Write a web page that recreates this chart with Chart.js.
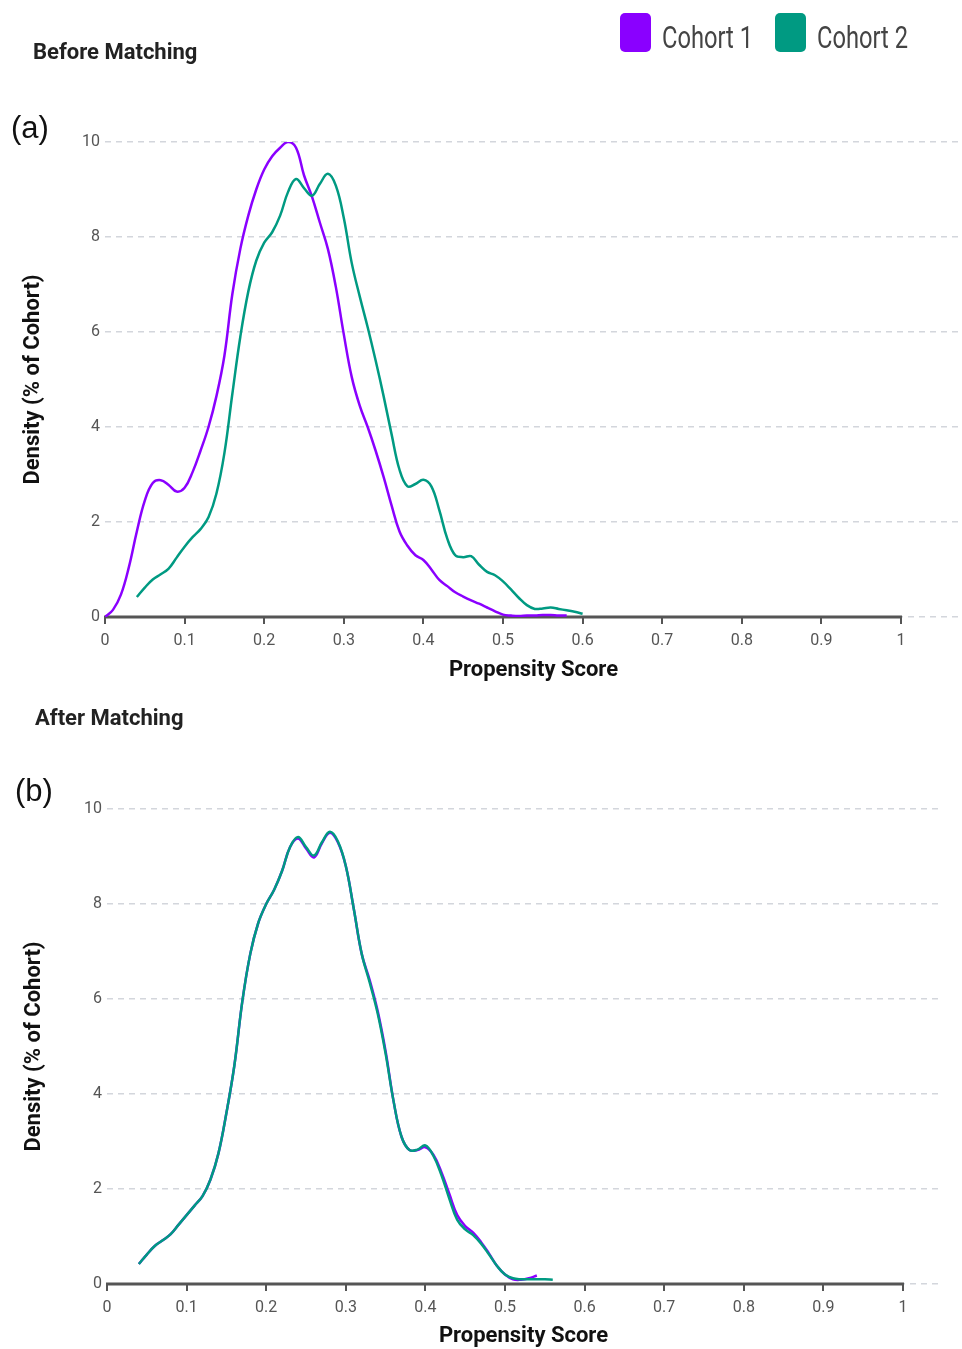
<!DOCTYPE html>
<html lang="en">
  <head>
    <meta charset="UTF-8" />
    <title>Propensity Score Density</title>
    <script src="https://cdn.jsdelivr.net/npm/chart.js"></script>
    <style>
      body {
        margin: 0;
        background: #fff;
        font-family: Roboto, Arial, sans-serif;
      }
      .page {
        position: relative;
        width: 962px;
        height: 1349px;
        overflow: hidden;
      }
      canvas {
        position: absolute;
        left: 0;
      }
      .heading {
        position: absolute;
        font-size: 22px;
        font-weight: bold;
        color: #222;
        line-height: 26px;
        white-space: nowrap;
      }
      .panel {
        position: absolute;
        font-family: 'Liberation Sans', Arial, sans-serif;
        font-size: 31px;
        color: #111;
        line-height: 36px;
      }
      .legend {
        position: absolute;
        top: 13px;
        left: 620px;
        display: flex;
        align-items: center;
      }
      .legend .item {
        display: flex;
        align-items: center;
        margin-right: 23px;
      }
      .legend .box {
        width: 31px;
        height: 39px;
        border-radius: 5px;
        margin-right: 11px;
      }
      .legend .text {
        font-size: 32px;
        color: #444;
        display: inline-block;
        position: relative;
        top: 4px;
        transform: scaleX(0.74);
        transform-origin: left center;
        margin-right: -33px;
        white-space: nowrap;
      }
    </style>
  </head>
  <body>
    <div class="page">
      <canvas id="before" width="962" height="700" style="top:1px"></canvas>
      <canvas id="after" width="962" height="649" style="top:701px"></canvas>
      <div class="heading" style="left:33px; top:39px">Before Matching</div>
      <div class="panel" style="left:11px; top:110px">(a)</div>
      <div class="heading" style="left:35px; top:705px">After Matching</div>
      <div class="panel" style="left:15px; top:773px">(b)</div>
      <div class="legend" id="legend"></div>
    </div>

    <script>
      const cohortLabels = ['Cohort 1', 'Cohort 2']
      const cohortColors = ['#8a00ff', '#009a82']
      const scoreTicks = [0, 0.1, 0.2, 0.3, 0.4, 0.5, 0.6, 0.7, 0.8, 0.9, 1]
      const densityTicks = [0, 2, 4, 6, 8, 10]

      // Before matching
      const before1X = [0, 0.01, 0.02, 0.03, 0.04, 0.05, 0.06, 0.07, 0.08, 0.09, 0.1, 0.11, 0.12, 0.13, 0.14, 0.15, 0.16, 0.17, 0.18, 0.19, 0.2, 0.21, 0.22, 0.23, 0.24, 0.25, 0.26, 0.27, 0.28, 0.29, 0.3, 0.31, 0.32, 0.33, 0.34, 0.35, 0.36, 0.37, 0.38, 0.39, 0.4, 0.41, 0.42, 0.43, 0.44, 0.45, 0.46, 0.47, 0.48, 0.49, 0.5, 0.51, 0.52, 0.53, 0.54, 0.55, 0.56, 0.57, 0.58]
      const before1Y = [0, 0.15, 0.47, 1.05, 1.8, 2.45, 2.82, 2.88, 2.78, 2.64, 2.72, 3.05, 3.5, 4.0, 4.65, 5.5, 6.8, 7.75, 8.45, 9.0, 9.42, 9.7, 9.88, 10.0, 9.88, 9.3, 8.85, 8.3, 7.75, 6.95, 5.95, 5.05, 4.45, 4.0, 3.5, 2.95, 2.35, 1.8, 1.5, 1.3, 1.2, 1.0, 0.78, 0.65, 0.52, 0.43, 0.35, 0.28, 0.2, 0.12, 0.05, 0.03, 0.02, 0.03, 0.03, 0.04, 0.04, 0.03, 0.03]
      const before2X = [0.04, 0.05, 0.06, 0.07, 0.08, 0.09, 0.1, 0.11, 0.12, 0.13, 0.14, 0.15, 0.16, 0.17, 0.18, 0.19, 0.2, 0.21, 0.22, 0.23, 0.24, 0.25, 0.26, 0.27, 0.28, 0.29, 0.3, 0.31, 0.32, 0.33, 0.34, 0.35, 0.36, 0.37, 0.38, 0.39, 0.4, 0.41, 0.42, 0.43, 0.44, 0.45, 0.46, 0.47, 0.48, 0.49, 0.5, 0.51, 0.52, 0.53, 0.54, 0.55, 0.56, 0.57, 0.58, 0.59, 0.6]
      const before2Y = [0.42, 0.62, 0.79, 0.9, 1.02, 1.25, 1.48, 1.68, 1.85, 2.1, 2.6, 3.45, 4.7, 5.9, 6.85, 7.5, 7.88, 8.1, 8.45, 8.95, 9.22, 9.03, 8.87, 9.12, 9.33, 9.08, 8.4, 7.45, 6.75, 6.1, 5.4, 4.65, 3.85, 3.1, 2.75, 2.8, 2.89, 2.75, 2.25, 1.65, 1.3, 1.26, 1.28, 1.1, 0.95, 0.88, 0.75, 0.58, 0.4, 0.25, 0.17, 0.18, 0.2, 0.17, 0.14, 0.11, 0.07]

      // After matching
      const after1X = [0.04, 0.05, 0.06, 0.07, 0.08, 0.09, 0.1, 0.11, 0.12, 0.13, 0.14, 0.15, 0.16, 0.17, 0.18, 0.19, 0.2, 0.21, 0.22, 0.23, 0.24, 0.25, 0.26, 0.27, 0.28, 0.29, 0.3, 0.31, 0.32, 0.33, 0.34, 0.35, 0.36, 0.37, 0.38, 0.39, 0.4, 0.41, 0.42, 0.43, 0.44, 0.45, 0.46, 0.47, 0.48, 0.49, 0.5, 0.51, 0.52, 0.53, 0.54]
      const after1Y = [0.42, 0.62, 0.8, 0.92, 1.05, 1.25, 1.45, 1.65, 1.85, 2.2, 2.75, 3.6, 4.6, 5.95, 6.95, 7.6, 8.0, 8.3, 8.7, 9.2, 9.38, 9.17, 8.98, 9.28, 9.5, 9.3, 8.8, 7.9, 6.95, 6.4, 5.75, 4.9, 3.85, 3.1, 2.82, 2.82, 2.88, 2.72, 2.36, 1.9, 1.45, 1.22, 1.08, 0.88, 0.64, 0.38, 0.2, 0.1, 0.09, 0.12, 0.18]
      const after2X = [0.04, 0.05, 0.06, 0.07, 0.08, 0.09, 0.1, 0.11, 0.12, 0.13, 0.14, 0.15, 0.16, 0.17, 0.18, 0.19, 0.2, 0.21, 0.22, 0.23, 0.24, 0.25, 0.26, 0.27, 0.28, 0.29, 0.3, 0.31, 0.32, 0.33, 0.34, 0.35, 0.36, 0.37, 0.38, 0.39, 0.4, 0.41, 0.42, 0.43, 0.44, 0.45, 0.46, 0.47, 0.48, 0.49, 0.5, 0.51, 0.52, 0.53, 0.54, 0.55, 0.56]
      const after2Y = [0.42, 0.62, 0.8, 0.92, 1.05, 1.25, 1.45, 1.65, 1.85, 2.2, 2.75, 3.6, 4.6, 5.95, 6.95, 7.6, 8.0, 8.3, 8.7, 9.2, 9.41, 9.2, 9.02, 9.3, 9.52, 9.32, 8.8, 7.9, 6.95, 6.35, 5.7, 4.85, 3.85, 3.1, 2.82, 2.83, 2.92, 2.7, 2.3, 1.8, 1.35, 1.15, 1.03, 0.85, 0.62, 0.38, 0.2, 0.12, 0.1, 0.1, 0.1, 0.1, 0.09]

      Chart.defaults.font.family = 'Roboto, Arial, sans-serif'

      function toPoints(xs, ys) {
        return xs.map((x, i) => ({ x: x, y: ys[i] }))
      }

      // x axis line only from 0 to 1, grid lines run further right
      const axisLine = {
        id: 'axisLine',
        beforeDatasetsDraw(chart) {
          const { ctx, scales } = chart
          const y0 = scales.y.getPixelForValue(0)
          ctx.save()
          ctx.strokeStyle = '#555'
          ctx.lineWidth = 3
          ctx.beginPath()
          ctx.moveTo(scales.x.getPixelForValue(0) - 1, y0)
          ctx.lineTo(scales.x.getPixelForValue(1) + 1, y0)
          ctx.stroke()
          ctx.restore()
        },
      }

      function makeChart(id, sets, box) {
        const ctx = document.getElementById(id).getContext('2d')
        return new Chart(ctx, {
          type: 'line',
          data: {
            datasets: sets.map((pts, i) => ({
              label: cohortLabels[i],
              data: pts,
              borderColor: cohortColors[i],
              borderWidth: 2.5,
              pointRadius: 0,
              fill: false,
              tension: 0.4,
              order: sets.length - i,
            })),
          },
          options: {
            responsive: false,
            animation: false,
            layout: { padding: { top: box.top, right: box.right, bottom: 0, left: 0 } },
            plugins: { legend: { display: false }, tooltip: { enabled: false } },
            scales: {
              x: {
                type: 'linear',
                min: 0,
                max: box.xMax,
                afterBuildTicks(s) {
                  s.ticks = scoreTicks.map((v) => ({ value: v }))
                },
                afterFit(s) {
                  s.height = box.xHeight
                },
                ticks: {
                  color: '#555',
                  font: { size: 16 },
                  padding: 7,
                  maxRotation: 0,
                  autoSkip: false,
                  callback: (v) => String(v),
                },
                grid: {
                  drawOnChartArea: false,
                  drawTicks: true,
                  tickLength: 7,
                  color: '#555',
                  lineWidth: 2,
                },
                border: { display: false },
                title: {
                  display: true,
                  text: 'Propensity Score',
                  color: '#111',
                  font: { size: 22, weight: 'bold' },
                  padding: { top: 0, bottom: box.xTitlePad },
                },
              },
              y: {
                min: 0,
                max: 10,
                afterBuildTicks(s) {
                  s.ticks = densityTicks.map((v) => ({ value: v }))
                },
                afterFit(s) {
                  s.width = box.yWidth
                },
                ticks: { color: '#555', font: { size: 16 }, padding: 5 },
                grid: { color: '#d3d6dc', lineWidth: 1.5, drawTicks: false },
                border: { display: false, dash: [6, 5] },
                title: {
                  display: true,
                  text: 'Density (% of Cohort)',
                  color: '#111',
                  font: { size: 22, weight: 'bold' },
                  padding: { top: box.yTitlePad, bottom: 0 },
                },
              },
            },
          },
          plugins: [axisLine],
        })
      }

      makeChart('before', [toPoints(before1X, before1Y), toPoints(before2X, before2Y)], {
        top: 141,
        right: 0,
        xMax: (962 - 105) / 796,
        xHeight: 84,
        xTitlePad: 17,
        yWidth: 105,
        yTitlePad: 20,
      })

      makeChart('after', [toPoints(after1X, after1Y), toPoints(after2X, after2Y)], {
        top: 108,
        right: 22,
        xMax: (940 - 107) / 796,
        xHeight: 66,
        xTitlePad: 0,
        yWidth: 107,
        yTitlePad: 21,
      })

      const legend = document.getElementById('legend')
      cohortLabels.forEach((label, i) => {
        const item = document.createElement('div')
        item.className = 'item'
        item.innerHTML =
          '<span class="box" style="background:' + cohortColors[i] + '"></span><span class="text">' + label + '</span>'
        legend.appendChild(item)
      })
    </script>
  </body>
</html>
